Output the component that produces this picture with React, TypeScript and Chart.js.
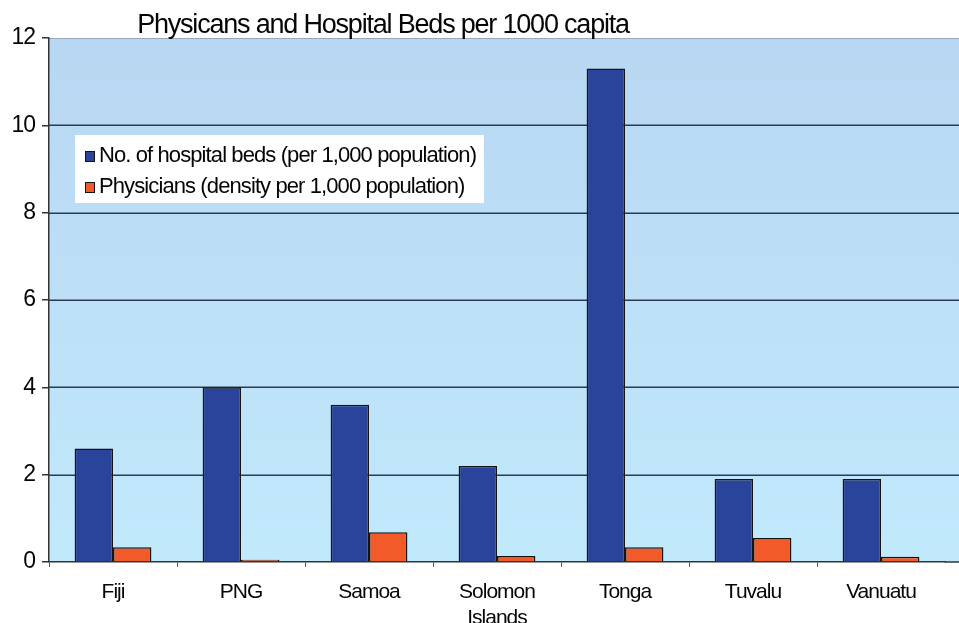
import { useEffect, useRef } from "react";
import { Chart, registerables } from "chart.js";

Chart.register(...registerables);

// Data
const countries: (string | string[])[] = ["Fiji", "PNG", "Samoa", ["Solomon", "Islands"], "Tonga", "Tuvalu", "Vanuatu"];
const hospitalBeds = [2.6, 4.0, 3.6, 2.2, 11.3, 1.9, 1.9];
const physicians = [0.34, 0.05, 0.68, 0.14, 0.34, 0.55, 0.12];
const yMin = 0;
const yMax = 12;
const yStep = 2;
const titleText = "Physicans and Hospital Beds per 1000 capita";
const bedsLabel = "No. of hospital beds (per 1,000 population)";
const physiciansLabel = "Physicians (density per 1,000 population)";

const FONT = "'Liberation Sans', Arial, sans-serif";
const BLUE = "#2a449c";
const ORANGE = "#f25a2a";
const EDGE = "#141414";

// Plot background, horizontal grid, title and boxed legend
const decorPlugin = {
  id: "decor",
  beforeDraw(chart: any) {
    const { ctx, chartArea: a, width } = chart;
    const y = chart.scales.y;
    ctx.save();
    const g = ctx.createLinearGradient(0, a.top, 0, a.bottom);
    g.addColorStop(0, "#b8d7f2");
    g.addColorStop(1, "#c1e9fc");
    ctx.fillStyle = g;
    ctx.fillRect(a.left, a.top, width - a.left, a.bottom - a.top);

    ctx.strokeStyle = "#98a8b8";
    ctx.lineWidth = 1;
    ctx.beginPath();
    ctx.moveTo(a.left, a.top + 0.5);
    ctx.lineTo(width, a.top + 0.5);
    ctx.stroke();

    ctx.strokeStyle = "#2c3a58";
    ctx.lineWidth = 1.5;
    y.ticks.forEach((t: any) => {
      if (t.value <= yMin || t.value >= yMax) return;
      const py = Math.round(y.getPixelForValue(t.value)) + 0.25;
      ctx.beginPath();
      ctx.moveTo(a.left, py);
      ctx.lineTo(width, py);
      ctx.stroke();
    });

    // bottom axis continues to the right edge
    ctx.strokeStyle = "#333";
    ctx.lineWidth = 1.5;
    ctx.beginPath();
    ctx.moveTo(a.right, a.bottom);
    ctx.lineTo(width, a.bottom);
    ctx.stroke();
    ctx.restore();
    ctx.letterSpacing = "-1px";
  },
  afterDraw(chart: any) {
    const { ctx } = chart;
    ctx.save();
    ctx.letterSpacing = "-1.2px";
    ctx.fillStyle = "#050505";
    ctx.font = `27px ${FONT}`;
    ctx.textAlign = "center";
    ctx.textBaseline = "alphabetic";
    ctx.fillText(titleText, 383, 33);

    // legend
    ctx.fillStyle = "#ffffff";
    ctx.fillRect(75, 135, 409, 68);
    const items = chart.data.datasets.map((d: any) => ({ label: d.label, color: d.backgroundColor }));
    ctx.font = `22px ${FONT}`;
    ctx.textAlign = "left";
    ctx.textBaseline = "middle";
    ctx.letterSpacing = "-0.9px";
    items.forEach((it: any, i: number) => {
      const cy = 156 + i * 31;
      ctx.fillStyle = it.color;
      ctx.fillRect(85, cy - 5, 9, 10);
      ctx.strokeStyle = EDGE;
      ctx.lineWidth = 1;
      ctx.strokeRect(85.5, cy - 4.5, 9, 10);
      ctx.fillStyle = "#050505";
      ctx.fillText(it.label, 99, cy);
    });
    ctx.restore();
  },
};

export default function App() {
  const canvasRef = useRef<HTMLCanvasElement | null>(null);

  useEffect(() => {
    if (!canvasRef.current) return;
    const chart = new Chart(canvasRef.current, {
      type: "bar",
      data: {
        labels: countries,
        datasets: [
          {
            label: bedsLabel,
            data: hospitalBeds,
            backgroundColor: BLUE,
            borderColor: EDGE,
            borderWidth: 1.5,
            categoryPercentage: 0.6,
            barPercentage: 1,
          },
          {
            label: physiciansLabel,
            data: physicians,
            backgroundColor: ORANGE,
            borderColor: EDGE,
            borderWidth: 1.5,
            categoryPercentage: 0.6,
            barPercentage: 1,
          },
        ],
      },
      options: {
        responsive: false,
        animation: false,
        layout: { padding: { top: 38, right: 14, left: 0, bottom: 0 } },
        plugins: {
          legend: { display: false },
          title: { display: false },
          tooltip: { enabled: false },
        },
        scales: {
          x: {
            offset: true,
            grid: {
              drawOnChartArea: false,
              drawTicks: true,
              tickLength: 5,
              tickColor: (c: any) => (c.type === "tick" ? "#555" : "rgba(0,0,0,0)"),
              lineWidth: 1,
            },
            border: { display: true, color: "#333", width: 1.5 },
            ticks: {
              color: "#050505",
              font: { family: FONT, size: 21 },
              padding: 13,
              autoSkip: false,
              maxRotation: 0,
            },
            afterFit: (s: any) => {
              s.height = 61;
            },
          },
          y: {
            min: yMin,
            max: yMax,
            grid: { drawOnChartArea: false, drawTicks: true, tickLength: 7, tickColor: "#333", lineWidth: 1.5 },
            border: { display: true, color: "#333", width: 1.5 },
            ticks: {
              stepSize: yStep,
              color: "#050505",
              font: { family: FONT, size: 23 },
              padding: 7,
            },
            afterFit: (s: any) => {
              s.width = 49;
            },
          },
        },
      },
      plugins: [decorPlugin],
    });
    return () => chart.destroy();
  }, []);

  return (
    <div style={{ position: "fixed", left: 0, top: 0, width: 959, height: 623, background: "#fff", overflow: "hidden" }}>
      <canvas ref={canvasRef} width={959} height={623} style={{ display: "block" }} />
    </div>
  );
}
